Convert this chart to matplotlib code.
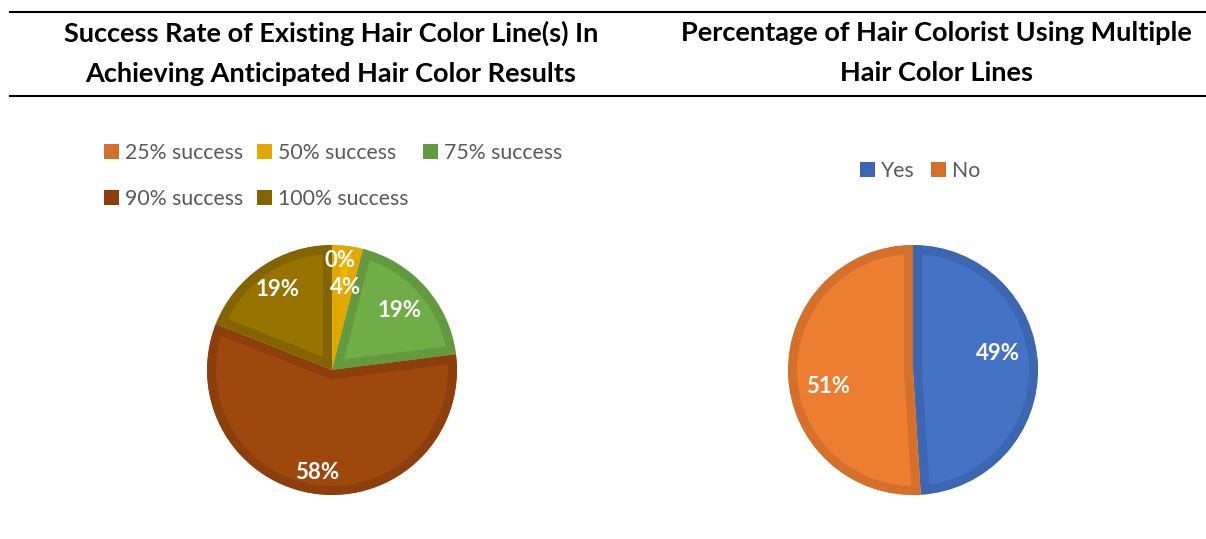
import matplotlib
matplotlib.use("Agg")
import matplotlib.pyplot as plt
import numpy as np
from matplotlib.lines import Line2D
from matplotlib.patches import Patch

plt.rcParams['font.family'] = ['Lato', 'DejaVu Sans']

# left chart data
succ_labels = ['25% success', '50% success', '75% success', '90% success', '100% success']
succ_values = [0, 4, 19, 58, 19]
succ_fill = ['#ED7D31', '#F0B400', '#70AD47', '#9E480E', '#997300']
succ_edge = ['#D4702C', '#E0A800', '#63993F', '#8C3F0C', '#846400']
succ_lbl_dist = [0.88, 0.67, 0.72, 0.83, 0.78]
succ_lbl_rot = [-4, -2, 0, -1, 0]

# right chart data
multi_labels = ['Yes', 'No']
multi_values = [49, 51]
multi_fill = ['#4472C4', '#ED7D31']
multi_edge = ['#3C66B0', '#D4702C']
multi_lbl_dist = [0.69, 0.69]
multi_lbl_rot = [9, 9]

title_left = 'Success Rate of Existing Hair Color Line(s) In\nAchieving Anticipated Hair Color Results'
title_right = 'Percentage of Hair Colorist Using Multiple\nHair Color Lines'

W, H = 1206, 539
fig = plt.figure(figsize=(W / 100, H / 100), dpi=100)


def draw_pie(ax, values, fill, edge, dists, rots):
    wedges, _ = ax.pie(values, colors=fill, startangle=90, counterclock=False,
                       radius=1.0,
                       wedgeprops=dict(linewidth=13, joinstyle='miter'))
    # border drawn inside each wedge only (clip the stroke to the wedge itself)
    for w, ec in zip(wedges, edge):
        w.set_edgecolor(ec)
        w.set_clip_path(w)
        w.set_clip_on(True)
    total = float(sum(values))
    for w, v, d, r in zip(wedges, values, dists, rots):
        ang = np.deg2rad((w.theta1 + w.theta2) / 2 + r)
        ax.text(d * np.cos(ang), d * np.sin(ang), f'{v / total * 100:.0f}%',
                ha='center', va='center', color='white', fontsize=16,
                fontweight='bold')
    ax.set_xlim(-1, 1)
    ax.set_ylim(-1, 1)
    ax.set_aspect('equal')
    ax.axis('off')
    return wedges


R = 125
ax1 = fig.add_axes([(332 - R) / W, (H - 495) / H, 2 * R / W, 2 * R / H])
ax2 = fig.add_axes([(913 - R) / W, (H - 495) / H, 2 * R / W, 2 * R / H])

draw_pie(ax1, succ_values, succ_fill, succ_edge, succ_lbl_dist, succ_lbl_rot)
draw_pie(ax2, multi_values, multi_fill, multi_edge, multi_lbl_dist, multi_lbl_rot)

# legends (column-major order so rows read 25/50/75 then 90/100)
order = [0, 3, 1, 4, 2]
h1 = [Patch(facecolor=succ_edge[i], edgecolor='none') for i in order]
l1 = [succ_labels[i] for i in order]
fig.legend(h1, l1, loc='center', bbox_to_anchor=(333 / W, 1 - 176 / H),
           ncol=3, frameon=False, fontsize=15.3, labelcolor='#595959',
           handlelength=0.7, handleheight=0.7, handletextpad=0.3,
           columnspacing=0.65, labelspacing=1.25)

h2 = [Patch(facecolor=c, edgecolor='none') for c in multi_edge]
fig.legend(h2, multi_labels, loc='center', bbox_to_anchor=(920 / W, 1 - 171 / H),
           ncol=2, frameon=False, fontsize=15.3, labelcolor='#595959',
           handlelength=0.7, handleheight=0.7, handletextpad=0.3,
           columnspacing=0.75)

# titles
fig.text(331 / W, 1 - 53 / H, title_left, ha='center', va='center',
         fontsize=19.5, fontweight='bold', linespacing=1.8)
fig.text(936 / W, 1 - 53 / H, title_right, ha='center', va='center',
         fontsize=19.5, fontweight='bold', linespacing=1.8)

# horizontal rules
for y in (12, 96):
    fig.add_artist(Line2D([10 / W, 1.0], [1 - y / H] * 2, transform=fig.transFigure,
                          color='black', linewidth=1.5))

fig.savefig('out.png', dpi=100)
